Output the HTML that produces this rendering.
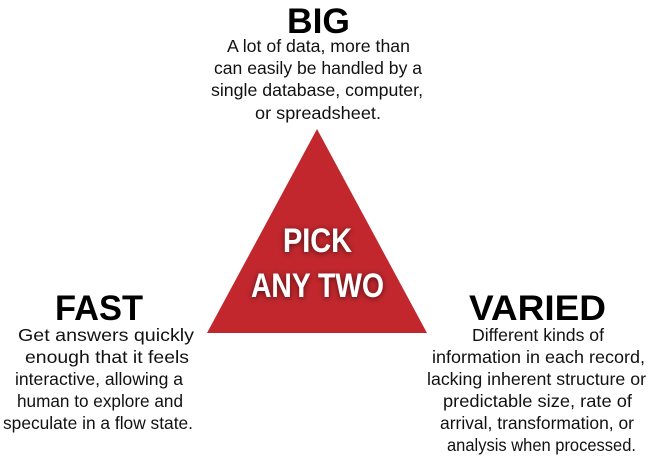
<!DOCTYPE html>
<html><head><meta charset="utf-8"><style>
html,body{margin:0;padding:0;background:#fff;width:652px;height:458px;overflow:hidden}
text{font-family:"Liberation Sans",Arial,sans-serif}
</style></head><body>
<svg width="652" height="458" viewBox="0 0 652 458" xmlns="http://www.w3.org/2000/svg">
<defs>
<filter id="sh" x="-20%" y="-40%" width="140%" height="180%"><feGaussianBlur in="SourceAlpha" stdDeviation="3"/><feOffset dx="0" dy="1"/><feComponentTransfer><feFuncA type="linear" slope="0.6"/></feComponentTransfer><feMerge><feMergeNode/><feMergeNode in="SourceGraphic"/></feMerge></filter>
</defs>
<polygon points="317,129 207,333 427,333" fill="#c1272d"/>
<g font-weight="bold" fill="#fff" font-size="34" filter="url(#sh)">
<text x="283" y="252" textLength="69" lengthAdjust="spacingAndGlyphs">PICK</text>
<text x="251" y="297" textLength="133" lengthAdjust="spacingAndGlyphs">ANY TWO</text>
</g>
<g font-weight="bold" fill="#000" font-size="35">
<text x="287" y="33" textLength="63" lengthAdjust="spacingAndGlyphs">BIG</text>
<text x="55" y="320" textLength="88" lengthAdjust="spacingAndGlyphs">FAST</text>
<text x="469" y="320" textLength="137" lengthAdjust="spacingAndGlyphs">VARIED</text>
</g>
<g fill="#111" font-size="17.5">
<text x="227" y="52" textLength="183" lengthAdjust="spacingAndGlyphs">A lot of data, more than</text>
<text x="214" y="74" textLength="208" lengthAdjust="spacingAndGlyphs">can easily be handled by a</text>
<text x="211" y="96" textLength="212" lengthAdjust="spacingAndGlyphs">single database, computer,</text>
<text x="255" y="119" textLength="126" lengthAdjust="spacingAndGlyphs">or spreadsheet.</text>

<text x="18" y="341" textLength="176" lengthAdjust="spacingAndGlyphs">Get answers quickly</text>
<text x="25" y="363" textLength="164" lengthAdjust="spacingAndGlyphs">enough that it feels</text>
<text x="15" y="385" textLength="168" lengthAdjust="spacingAndGlyphs">interactive, allowing a</text>
<text x="17" y="407" textLength="166" lengthAdjust="spacingAndGlyphs">human to explore and</text>
<text x="3" y="429" textLength="190" lengthAdjust="spacingAndGlyphs">speculate in a flow state.</text>

<text x="472" y="341" textLength="132" lengthAdjust="spacingAndGlyphs">Different kinds of</text>
<text x="432" y="363" textLength="213" lengthAdjust="spacingAndGlyphs">information in each record,</text>
<text x="427" y="385" textLength="219" lengthAdjust="spacingAndGlyphs">lacking inherent structure or</text>
<text x="443" y="407" textLength="189" lengthAdjust="spacingAndGlyphs">predictable size, rate of</text>
<text x="440" y="429" textLength="194" lengthAdjust="spacingAndGlyphs">arrival, transformation, or</text>
<text x="447" y="451" textLength="189" lengthAdjust="spacingAndGlyphs">analysis when processed.</text>
</g>
</svg>
</body></html>
